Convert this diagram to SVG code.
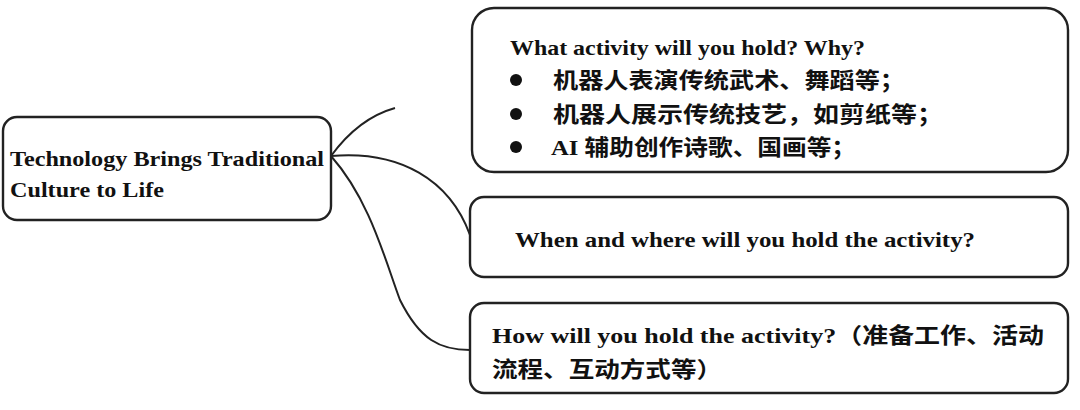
<svg xmlns="http://www.w3.org/2000/svg" width="1080" height="410" viewBox="0 0 1080 410">
<style>
.box{fill:#fff;stroke:#222;stroke-width:2.4}
.t{font-family:"Liberation Serif","Noto Sans CJK SC",serif;font-size:22px;font-weight:bold;fill:#111}
.c{fill:none;stroke:#222;stroke-width:2}
</style>
<rect width="1080" height="410" fill="#fff"/>
<g id="connectors">
<path class="c" d="M331,156 C350,130 370,115 395,108"/>
<path class="c" d="M331,156 C400,150 450,180 470,235"/>
<path class="c" d="M331,156 C370,200 385,260 400,300 C420,340 440,350 470,350"/>
</g>
<g id="root"><rect class="box" x="3" y="117" width="328" height="103" rx="14"/>
<text class="t" x="10" y="166" textLength="314" lengthAdjust="spacingAndGlyphs">Technology Brings Traditional</text>
<text class="t" x="10" y="197" textLength="154" lengthAdjust="spacingAndGlyphs">Culture to Life</text></g>
<g id="what"><rect class="box" x="472" y="8" width="596" height="164" rx="22"/>
<text class="t" x="510" y="55" textLength="355" lengthAdjust="spacingAndGlyphs">What activity will you hold? Why?</text>
<circle cx="516" cy="80" r="6" fill="#111"/><text class="t" x="553" y="88" textLength="352" lengthAdjust="spacingAndGlyphs">机器人表演传统武术、舞蹈等；</text>
<circle cx="516" cy="114" r="6" fill="#111"/><text class="t" x="553" y="122" textLength="390" lengthAdjust="spacingAndGlyphs">机器人展示传统技艺，如剪纸等；</text>
<circle cx="516" cy="147" r="6" fill="#111"/><text class="t" x="551" y="155" textLength="305" lengthAdjust="spacingAndGlyphs">AI 辅助创作诗歌、国画等；</text></g>
<g id="when"><rect class="box" x="470" y="197" width="598" height="80" rx="14"/>
<text class="t" x="515" y="247" textLength="460" lengthAdjust="spacingAndGlyphs">When and where will you hold the activity?</text></g>
<g id="how"><rect class="box" x="470" y="303" width="598" height="90" rx="14"/>
<text class="t" x="492" y="343" textLength="552" lengthAdjust="spacingAndGlyphs">How will you hold the activity?（准备工作、活动</text>
<text class="t" x="492" y="377" textLength="230" lengthAdjust="spacingAndGlyphs">流程、互动方式等）</text></g>
</svg>
